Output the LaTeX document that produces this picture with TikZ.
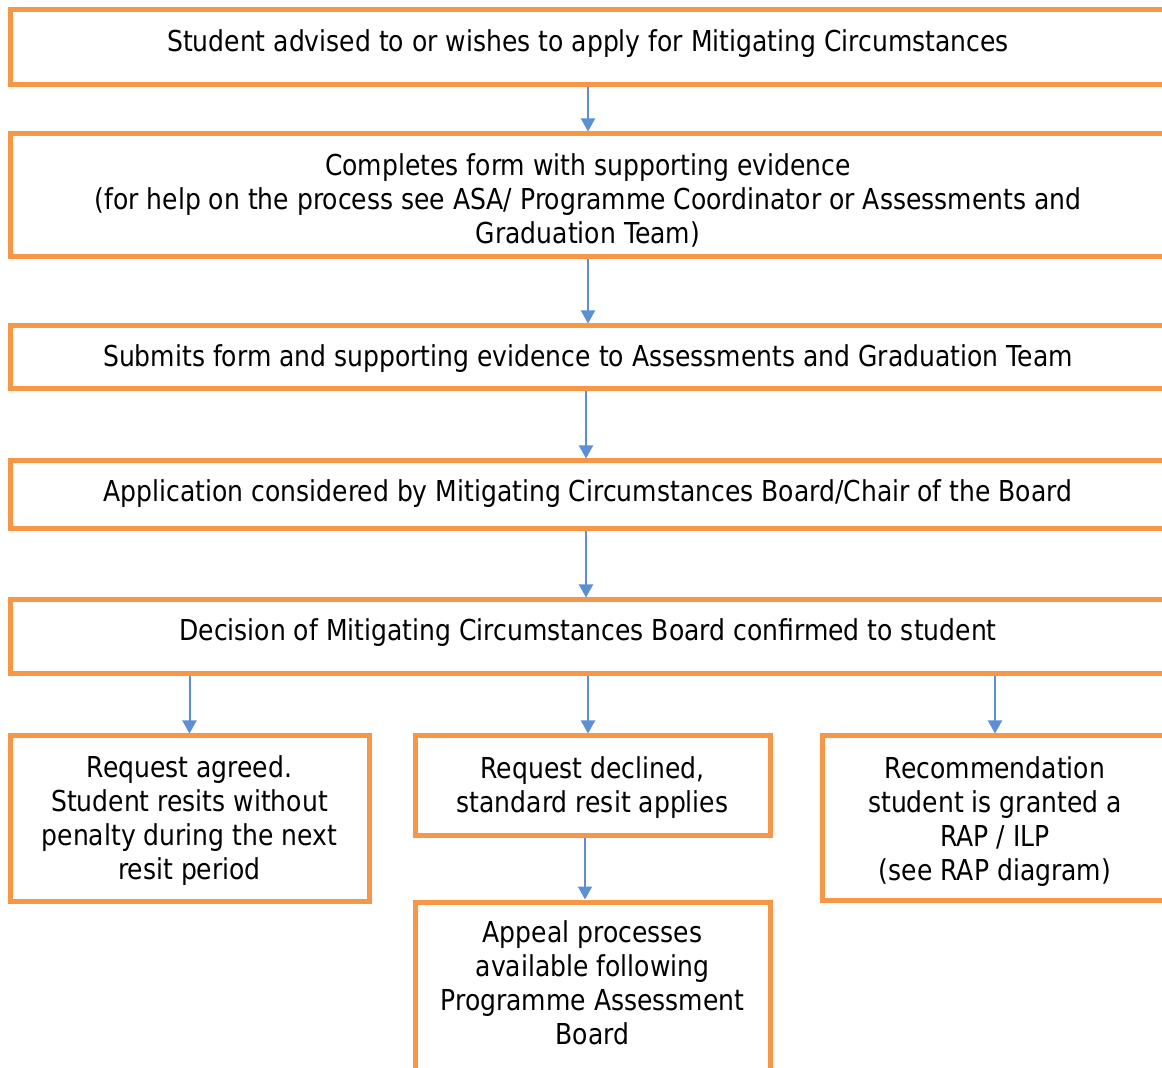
\documentclass[tikz,border=0pt]{standalone}
\usepackage{fontspec}
\setmainfont{DejaVu Sans}[FakeStretch=0.87]
\usetikzlibrary{arrows.meta}
\definecolor{boxorange}{HTML}{F79646}
\definecolor{flowblue}{HTML}{5B8FD6}
\begin{document}
\begin{tikzpicture}[x=0.5pt,y=-0.5pt,
    box/.style={draw=boxorange,line width=2.5pt,align=center,inner sep=0pt,font=\fontsize{14.4}{17}\selectfont},
    flow/.style={flowblue,line width=1pt,-{Triangle[width=7pt,length=6.5pt]}}]
    \useasboundingbox (0,0) rectangle (1162,1068);
    \clip (0,0) rectangle (1162,1068);
    \node [box,minimum width=578pt,minimum height=37.5pt,text depth=6.9pt] (apply) at (588,47.5) {Student advised to or wishes to apply for Mitigating Circumstances};
    \node [box,minimum width=578pt,minimum height=61.5pt] (form) at (588,195.5) {\rule{0pt}{16pt}Completes form with supporting evidence\\(for help on the process see ASA/ Programme Coordinator or Assessments and\\Graduation Team)};
    \node [box,minimum width=578pt,minimum height=31.5pt,text depth=1.9pt] (submit) at (588,357.5) {Submits form and supporting evidence to Assessments and Graduation Team};
    \node [box,minimum width=578pt,minimum height=34pt,text depth=4.4pt] (considered) at (588,495) {Application considered by Mitigating Circumstances Board/Chair of the Board};
    \node [box,minimum width=578pt,minimum height=37pt,text depth=7.4pt] (decision) at (588,637) {Decision of Mitigating Circumstances Board confirmed to student};
    \node [box,minimum width=179.5pt,minimum height=82.5pt] (agreed) at (189.5,818.5) {\rule{0pt}{13pt}Request agreed.\\Student resits without\\penalty during the next\\resit period};
    \node [box,minimum width=177.5pt,minimum height=50pt] (declined) at (592.5,786) {\rule{0pt}{12pt}Request declined,\\standard resit applies};
    \node [box,minimum width=173pt,minimum height=82pt] (rap) at (995,818) {\rule{0pt}{14pt}Recommendation\\student is granted a\\RAP / ILP\\(see RAP diagram)};
    \node [box,draw=none,outer sep=0pt,minimum width=177.5pt,minimum height=81pt] (appeal) at (592.5,983) {Appeal processes\\available following\\Programme Assessment\\Board};
    \draw [boxorange,line width=2.5pt] ([yshift=-60pt]appeal.south west) |- (appeal.north east) -- ([yshift=-60pt]appeal.south east);
    \draw [flow] (apply) -- (form);
    \draw [flow] (form) -- (submit);
    \draw [flow] ([xshift=-1pt]submit.south) -- ([xshift=-1pt]considered.north);
    \draw [flow] ([xshift=-1pt]considered.south) -- ([xshift=-1pt]decision.north);
    \draw [flow] (decision.south -| agreed.north) -- (agreed.north);
    \draw [flow] (decision.south) -- (decision.south |- declined.north);
    \draw [flow] (decision.south -| rap.north) -- (rap.north);
    \draw [flow] ([xshift=-3.75pt]declined.south) -- ([xshift=-3.75pt,yshift=1.25pt]appeal.north);
\end{tikzpicture}
\end{document}
